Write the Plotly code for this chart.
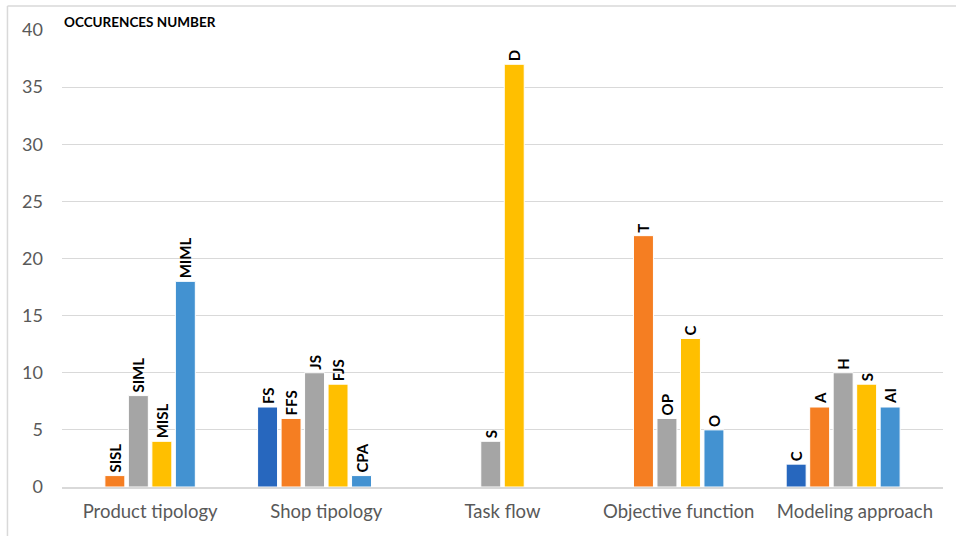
import plotly.graph_objects as go

# Categories on the x axis
categories = ["Product tipology", "Shop tipology", "Task flow",
              "Objective function", "Modeling approach"]

# Occurrence counts per series (None = no bar in that group)
series1_values = [None, 7, None, None, 2]
series2_values = [1, 6, None, 22, 7]
series3_values = [8, 10, 4, 6, 10]
series4_values = [4, 9, 37, 13, 9]
series5_values = [18, 1, None, 5, 7]
series6_values = [None, None, None, None, None]

# Bar labels per series
series1_labels = ["", "FS", "", "", "C"]
series2_labels = ["SISL", "FFS", "", "T", "A"]
series3_labels = ["SIML", "JS", "S", "OP", "H"]
series4_labels = ["MISL", "FJS", "D", "C", "S"]
series5_labels = ["MIML", "CPA", "", "O", "AI"]
series6_labels = ["", "", "", "", ""]

y_ticks = [0, 5, 10, 15, 20, 25, 30, 35, 40]

colors = ["#2767BE", "#F57E22", "#A5A5A5", "#FFBF00", "#4392D1", "#70AD47"]

all_values = [series1_values, series2_values, series3_values,
              series4_values, series5_values, series6_values]
all_labels = [series1_labels, series2_labels, series3_labels,
              series4_labels, series5_labels, series6_labels]

fig = go.Figure()
for i, (vals, labs) in enumerate(zip(all_values, all_labels)):
    fig.add_trace(go.Bar(
        x=categories,
        y=vals,
        text=labs,
        textposition="outside",
        textangle=-90,
        constraintext="none",
        cliponaxis=False,
        textfont=dict(family="Lato", size=15, color="#000000", weight="bold"),
        marker=dict(color=colors[i], line=dict(color="#FFFFFF", width=1)),
        showlegend=False,
        hoverinfo="skip",
    ))

grid = "#D9D9D9"

fig.update_layout(
    width=956, height=536,
    margin=dict(l=62, r=13, t=30, b=49),
    paper_bgcolor="#FFFFFF",
    plot_bgcolor="#FFFFFF",
    barmode="group",
    bargap=0.2,
    bargroupgap=0.15,
    font=dict(family="Lato", color="#595959"),
    xaxis=dict(
        showgrid=False,
        showline=True, linecolor=grid, linewidth=1.5,
        ticks="", tickfont=dict(size=18.5, color="#595959"),
        ticklabelstandoff=7,
    ),
    yaxis=dict(
        range=[0, 40],
        tickvals=y_ticks,
        showgrid=True, gridcolor=grid, gridwidth=1,
        zeroline=False,
        showline=False,
        ticks="", tickfont=dict(size=18, color="#595959"),
        ticklabelstandoff=18,
    ),
    annotations=[dict(
        text="<b>OCCURENCES NUMBER</b>",
        xref="paper", yref="paper",
        x=0, y=1.0175, xanchor="left", yanchor="middle",
        showarrow=False,
        font=dict(family="Lato", size=13.5, color="#000000"),
    )],
    shapes=[
        # chart frame: top and left edges
        dict(type="line", xref="paper", yref="paper",
             x0=-0.0619, x1=1.02, y0=1.0525, y1=1.0525,
             line=dict(color=grid, width=1.5)),
        dict(type="line", xref="paper", yref="paper",
             x0=-0.0619, x1=-0.0619, y0=1.0525, y1=-0.11,
             line=dict(color=grid, width=1.5)),
    ],
)

fig.write_html("out.html")
